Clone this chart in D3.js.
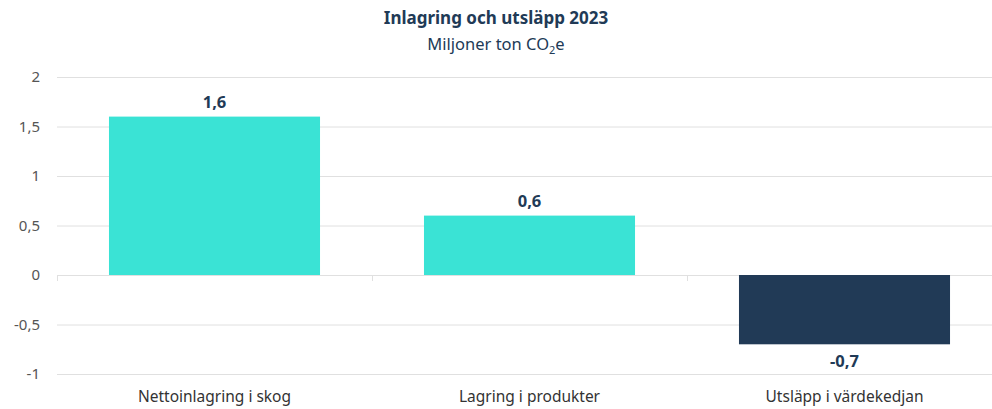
<!DOCTYPE html>
<html>
<head>
<meta charset="utf-8">
<script src="https://cdn.jsdelivr.net/npm/d3@7"></script>
<style>
  body { margin: 0; background: #fff; }
  svg text { font-family: "Noto Sans", sans-serif; }
</style>
</head>
<body>
<div id="chart"></div>
<script>
// Chart data
var categories = ['Nettoinlagring i skog', 'Lagring i produkter', 'Utsläpp i värdekedjan'];
var values = [1.6, 0.6, -0.7];
var valueLabels = ['1,6', '0,6', '-0,7'];
var yTicks = [-1, -0.5, 0, 0.5, 1, 1.5, 2];
var yTickLabels = ['-1', '-0,5', '0', '0,5', '1', '1,5', '2'];

var width = 992, height = 409;
var plotLeft = 57, plotRight = 1002, plotTop = 77, plotBottom = 374;

var svg = d3.select('#chart').append('svg')
    .attr('width', width)
    .attr('height', height);

var x = d3.scaleBand().domain(categories).range([plotLeft, plotRight]).paddingInner(0.33).paddingOuter(0.165);
var y = d3.scaleLinear().domain([-1, 2]).range([plotBottom, plotTop]);

// Gridlines
svg.append('g').selectAll('line')
    .data(yTicks)
    .enter().append('line')
    .attr('x1', plotLeft).attr('x2', width)
    .attr('y1', function(d) { return y(d) + 0.5; })
    .attr('y2', function(d) { return y(d) + 0.5; })
    .attr('stroke', '#e0e0e0')
    .attr('stroke-width', 1);

// Y tick labels
svg.append('g').selectAll('text')
    .data(yTicks)
    .enter().append('text')
    .attr('x', 40)
    .attr('y', function(d) { return y(d); })
    .attr('dy', '0.35em')
    .attr('text-anchor', 'end')
    .attr('font-size', 15)
    .attr('fill', '#555')
    .text(function(d, i) { return yTickLabels[i]; });

// Category boundary ticks on the zero line
var step = x.step();
var bounds = d3.range(categories.length + 1).map(function(i) { return plotLeft + i * step; });
svg.append('g').selectAll('line')
    .data(bounds)
    .enter().append('line')
    .attr('x1', function(d) { return Math.round(d) + 0.5; })
    .attr('x2', function(d) { return Math.round(d) + 0.5; })
    .attr('y1', y(0))
    .attr('y2', y(0) + 6)
    .attr('stroke', '#e0e0e0');

// Bars
svg.append('g').selectAll('rect')
    .data(values)
    .enter().append('rect')
    .attr('x', function(d, i) { return x(categories[i]); })
    .attr('width', x.bandwidth())
    .attr('y', function(d) { return y(Math.max(0, d)); })
    .attr('height', function(d) { return Math.abs(y(d) - y(0)); })
    .attr('fill', function(d) { return d >= 0 ? '#3ae3d5' : '#213a56'; });

// Value labels
svg.append('g').selectAll('text')
    .data(values)
    .enter().append('text')
    .attr('x', function(d, i) { return x(categories[i]) + x.bandwidth() / 2; })
    .attr('y', function(d) { return d >= 0 ? y(d) - 9 : y(d) + 23; })
    .attr('text-anchor', 'middle')
    .attr('font-size', 16.5)
    .attr('font-weight', 'bold')
    .attr('fill', '#213a56')
    .text(function(d, i) { return valueLabels[i]; });

// Category labels
svg.append('g').selectAll('text')
    .data(categories)
    .enter().append('text')
    .attr('x', function(d) { return x(d) + x.bandwidth() / 2; })
    .attr('y', 402)
    .attr('text-anchor', 'middle')
    .attr('font-size', 15.5)
    .attr('fill', '#333')
    .text(function(d) { return d; });

// Title
svg.append('text')
    .attr('x', 496).attr('y', 24)
    .attr('text-anchor', 'middle')
    .attr('font-size', 17)
    .attr('font-weight', 'bold')
    .attr('fill', '#213a56')
    .text('Inlagring och utsläpp 2023');

var sub = svg.append('text')
    .attr('x', 496).attr('y', 50)
    .attr('text-anchor', 'middle')
    .attr('font-size', 16.5)
    .attr('fill', '#213a56');
sub.append('tspan').text('Miljoner ton CO');
sub.append('tspan').attr('font-size', 11).attr('dy', 4).text('2');
sub.append('tspan').attr('dy', -4).text('e');
</script>
</body>
</html>
